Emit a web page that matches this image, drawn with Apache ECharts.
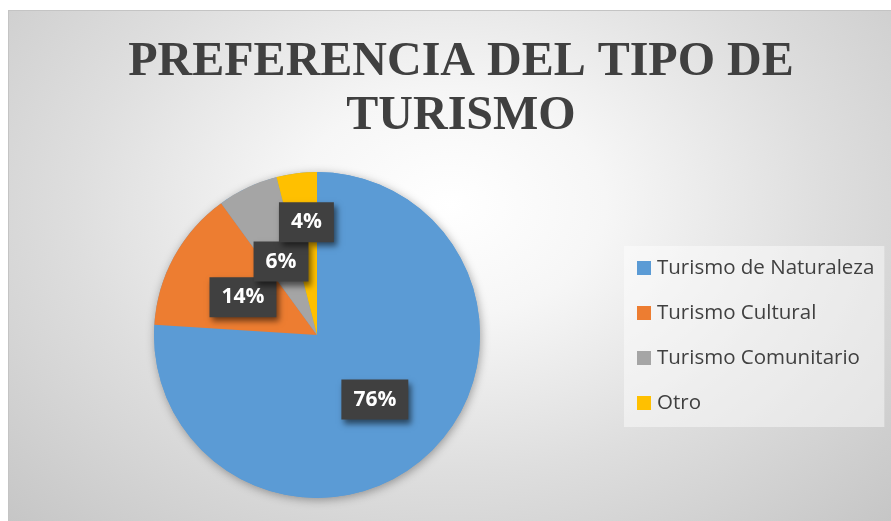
<!DOCTYPE html>
<html>
<head>
<meta charset="utf-8">
<script src="https://cdn.jsdelivr.net/npm/echarts@6/dist/echarts.min.js"></script>
<style>
  html, body { margin:0; padding:0; background:#ffffff; }
  #bg { position:absolute; left:8px; top:10px; width:883px; height:511px;
        box-sizing:border-box; border-left:1px solid #c4c4c4; border-top:1px solid #c4c4c4;
        background: radial-gradient(ellipse farthest-corner at 50% 38%, #ffffff 0%, #f6f6f6 25%, #dedede 60%, #c6c6c6 100%); }
  #chart { position:absolute; left:0; top:0; width:891px; height:521px; }
</style>
</head>
<body>
<div id="bg"></div>
<div id="chart"></div>
<script>
const titleText = 'PREFERENCIA DEL TIPO DE\nTURISMO';
const categories = ['Turismo de Naturaleza', 'Turismo Cultural', 'Turismo Comunitario', 'Otro'];
const values = [76, 14, 6, 4];
const colors = ['#5B9BD5', '#ED7D31', '#A5A5A5', '#FFC000'];

const chart = echarts.init(document.getElementById('chart'), null, { renderer: 'canvas' });

const data = categories.map((name, i) => {
  const item = { name: name, value: values[i], itemStyle: { color: colors[i] } };
  if (i === categories.length - 1) item.label = { offset: [0, -29] };
  return item;
});
const total = values.reduce((a, b) => a + b, 0);

chart.setOption({
  backgroundColor: 'transparent',
  animation: false,
  title: {
    text: titleText,
    left: 456, top: 31,
    textAlign: 'center',
    textStyle: {
      fontFamily: '"Liberation Serif", "Times New Roman", serif',
      fontWeight: 'bold', fontSize: 48, lineHeight: 54, color: '#404040'
    }
  },
  legend: {
    orient: 'vertical',
    left: 624, top: 246,
    padding: [11, 10, 13, 13],
    backgroundColor: 'rgba(255,255,255,0.45)',
    itemWidth: 14, itemHeight: 14, itemGap: 23,
    icon: 'rect',
    data: categories,
    textStyle: {
      fontFamily: '"Open Sans", sans-serif', fontSize: 20.5, color: '#404040',
      lineHeight: 22, padding: [0, 0, 0, 1]
    }
  },
  series: [
    {
      type: 'pie', silent: true, z: 1,
      center: [317, 335], radius: 163,
      label: { show: false }, labelLine: { show: false },
      itemStyle: { color: '#5B9BD5', shadowBlur: 10, shadowColor: 'rgba(0,0,0,0.35)', shadowOffsetX: 1, shadowOffsetY: 2 },
      data: [{ value: total, name: '__shadow' }]
    },
    {
      type: 'pie', z: 2,
      center: [317, 335], radius: 163,
      startAngle: 90, clockwise: true,
      percentPrecision: 0,
      avoidLabelOverlap: false,
      labelLayout: { hideOverlap: false },
      itemStyle: { borderWidth: 0 },
      label: {
        show: true, position: 'inside',
        offset: [0, 3],
        formatter: '{d}%',
        fontFamily: '"Open Sans", sans-serif', fontWeight: 'bold', fontSize: 21, color: '#ffffff',
        backgroundColor: '#404040',
        padding: [10, 12, 9, 12],
        shadowBlur: 6, shadowColor: 'rgba(0,0,0,0.55)', shadowOffsetX: 3, shadowOffsetY: 4
      },
      labelLine: { show: false },
      data: data
    }
  ]
});
</script>
</body>
</html>
